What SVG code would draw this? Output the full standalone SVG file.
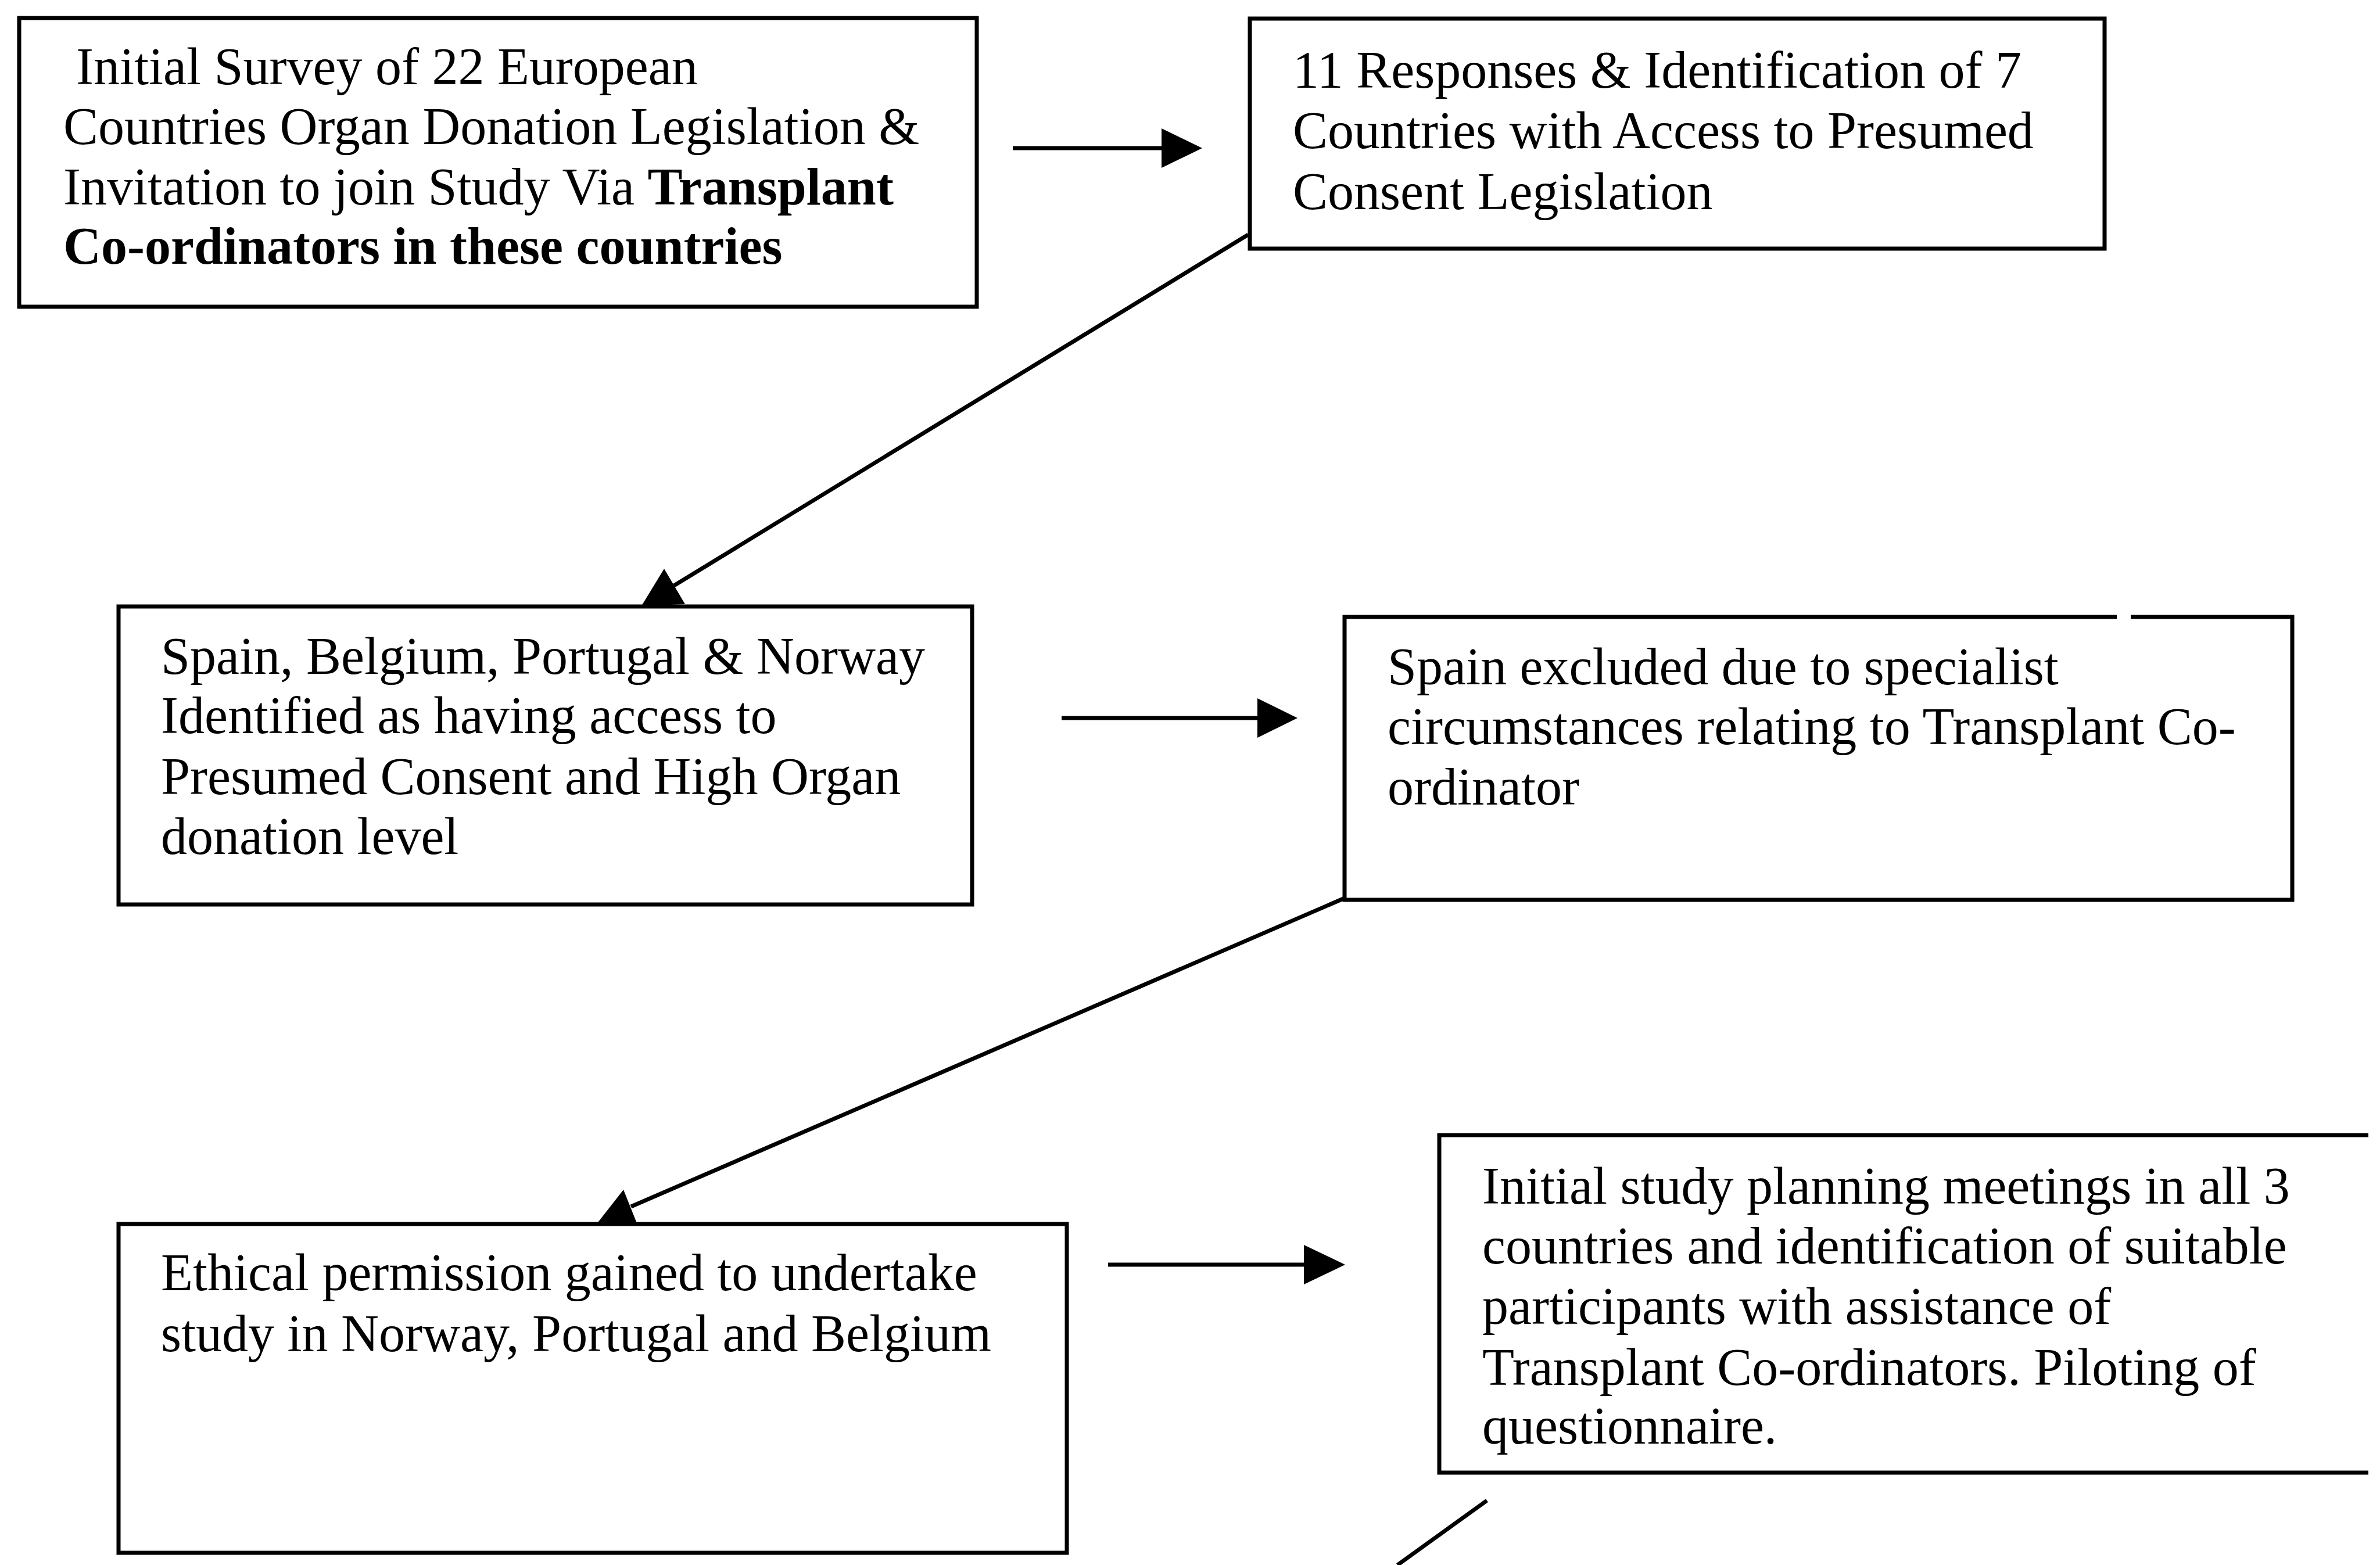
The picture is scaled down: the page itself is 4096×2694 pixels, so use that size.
<svg xmlns="http://www.w3.org/2000/svg" width="4096" height="2694" viewBox="0 0 4096 2694">
<style>
.box{fill:#fff;stroke:#000;stroke-width:7}
.ln{stroke:#000;stroke-width:7;fill:none}
.t{font-family:"Liberation Serif","Times New Roman",serif;font-size:90px;fill:#000}
.b{font-weight:bold}
.ah{fill:#000;stroke:none}
</style>
<rect width="4096" height="2694" fill="#fff"/>
<g id="node1">
<rect class="box" x="33" y="31" width="1648" height="497"/>
<text class="t" x="131" y="145">Initial Survey of 22 European</text>
<text class="t" x="109" y="248">Countries Organ Donation Legislation &amp;</text>
<text class="t" x="109" y="352">Invitation to join Study Via <tspan class="b">Transplant</tspan></text>
<text class="t b" x="109" y="454">Co-ordinators in these countries</text>
</g>
<g id="node2">
<rect class="box" x="2151" y="32" width="1471" height="396"/>
<text class="t" x="2225" y="151">11 Responses &amp; Identification of 7</text>
<text class="t" x="2225" y="255">Countries with Access to Presumed</text>
<text class="t" x="2225" y="360">Consent Legislation</text>
</g>
<g id="node3">
<rect class="box" x="204" y="1044" width="1469" height="513"/>
<text class="t" x="277" y="1160">Spain, Belgium, Portugal &amp; Norway</text>
<text class="t" x="277" y="1262">Identified as having access to</text>
<text class="t" x="277" y="1367">Presumed Consent and High Organ</text>
<text class="t" x="277" y="1470">donation level</text>
</g>
<g id="node4">
<rect x="2314" y="1062" width="1631" height="487" fill="#fff"/>
<path class="ln" d="M2314,1549 L2314,1062 L3643,1062 M3667,1062 L3945,1062 L3945,1549 L2310.5,1549"/>
<text class="t" x="2388" y="1178">Spain excluded due to specialist</text>
<text class="t" x="2388" y="1281">circumstances relating to Transplant Co-</text>
<text class="t" x="2388" y="1385">ordinator</text>
</g>
<g id="node5">
<rect class="box" x="204" y="2107" width="1632" height="566"/>
<text class="t" x="277" y="2221">Ethical permission gained to undertake</text>
<text class="t" x="277" y="2326">study in Norway, Portugal and Belgium</text>
</g>
<g id="node6">
<path class="ln" d="M4076,1954 L2477,1954 L2477,2535 L4076,2535"/>
<text class="t" x="2551" y="2072">Initial study planning meetings in all 3</text>
<text class="t" x="2551" y="2175">countries and identification of suitable</text>
<text class="t" x="2551" y="2279">participants with assistance of</text>
<text class="t" x="2551" y="2384">Transplant Co-ordinators. Piloting of</text>
<text class="t" x="2551" y="2485">questionnaire.</text>
</g>
<g id="connectors">
<line class="ln" x1="1743" y1="255" x2="2005" y2="255"/>
<polygon class="ah" points="1999,221 2069,255 1999,289"/>
<line class="ln" x1="1827" y1="1236" x2="2170" y2="1236"/>
<polygon class="ah" points="2164,1202 2233,1236 2164,1270"/>
<line class="ln" x1="1907" y1="2177" x2="2250" y2="2177"/>
<polygon class="ah" points="2244,2143 2315,2177 2244,2211"/>
<line class="ln" x1="2148" y1="404" x2="1160" y2="1008"/>
<polygon class="ah" points="1143,979 1104,1043 1179,1040"/>
<line class="ln" x1="2314" y1="1546" x2="1086" y2="2077"/>
<polygon class="ah" points="1073,2048 1026,2108 1097,2108"/>
<line class="ln" x1="2559" y1="2583" x2="2405" y2="2694"/>
</g>
</svg>
